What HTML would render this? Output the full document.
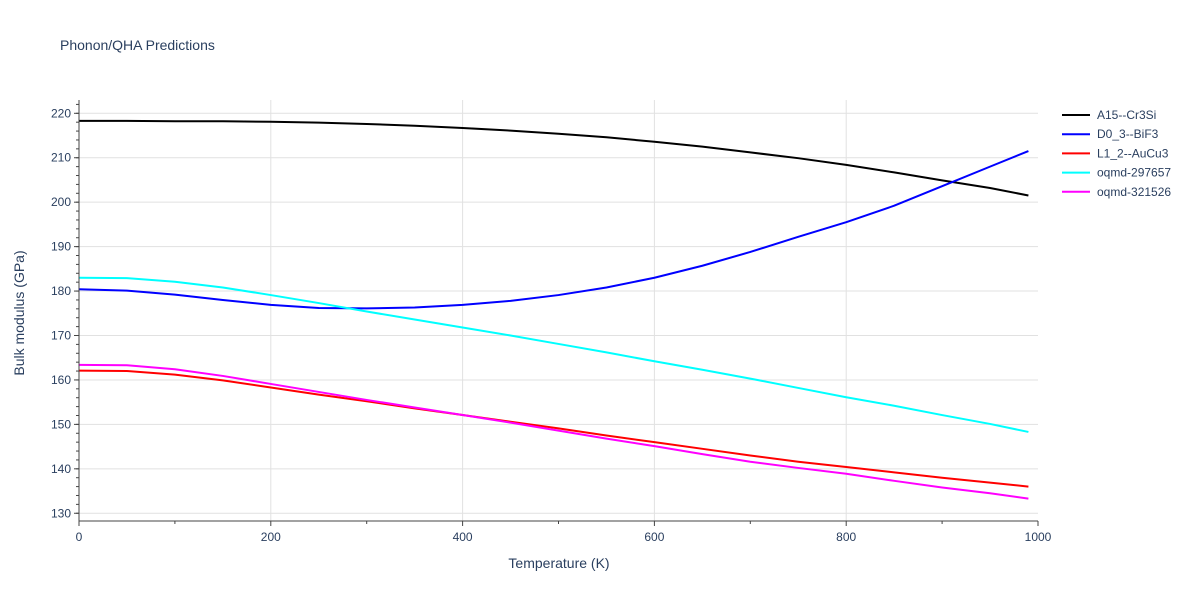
<!DOCTYPE html>
<html><head><meta charset="utf-8"><style>
body{margin:0;background:#fff;font-family:"Liberation Sans",sans-serif}
svg text{font-family:"Liberation Sans",sans-serif;fill:#2a3f5f}
</style></head><body>
<svg id="c" width="1200" height="600">
<text x="60" y="50" font-size="14">Phonon/QHA Predictions</text>
<g id="grid"></g><g id="series"></g><g id="axes"></g><g id="legend"></g>
<text x="559" y="568" font-size="14" text-anchor="middle">Temperature (K)</text>
<text transform="translate(24,313) rotate(-90)" font-size="14" text-anchor="middle">Bulk modulus (GPa)</text>
</svg>
<script>
const temps=[0,50,100,150,200,250,300,350,400,450,500,550,600,650,700,750,800,850,900,950,990];
const a15=[218.3,218.3,218.2,218.2,218.1,217.9,217.6,217.2,216.7,216.1,215.4,214.6,213.6,212.5,211.2,209.9,208.4,206.7,204.9,203.2,201.5];
const d03=[180.4,180.1,179.2,178.0,176.9,176.2,176.1,176.3,176.9,177.8,179.1,180.8,183.0,185.7,188.8,192.2,195.5,199.2,203.6,208.0,211.5];
const l12=[162.1,162.0,161.2,159.9,158.3,156.7,155.2,153.6,152.1,150.6,149.1,147.5,146.0,144.5,143.0,141.6,140.4,139.2,138.0,136.9,136.0];
const o297=[183.0,182.9,182.1,180.8,179.1,177.3,175.4,173.6,171.8,170.0,168.1,166.2,164.2,162.3,160.3,158.2,156.1,154.2,152.1,150.1,148.3];
const o321=[163.4,163.3,162.4,160.9,159.1,157.3,155.5,153.8,152.1,150.4,148.6,146.8,145.1,143.3,141.6,140.2,138.9,137.3,135.8,134.5,133.3];
const seriesNames=["A15--Cr3Si","D0_3--BiF3","L1_2--AuCu3","oqmd-297657","oqmd-321526"];
const seriesColors=["#000000","#0000ff","#ff0000","#00ffff","#ff00ff"];
const seriesData=[a15,d03,l12,o297,o321];
const xTicks=[0,200,400,600,800,1000];
const yTicks=[130,140,150,160,170,180,190,200,210,220];
const NS="http://www.w3.org/2000/svg";
const X0=79,X1=1038,Y0=100,Y1=521;
const xs=v=>X0+(v/1000)*(X1-X0);
const ys=v=>113.3+(220-v)*4.444;
function mk(t,a,p){const e=document.createElementNS(NS,t);for(const k in a)e.setAttribute(k,a[k]);p.appendChild(e);return e;}
const g=document.getElementById('grid'),ax=document.getElementById('axes'),s=document.getElementById('series'),lg=document.getElementById('legend');
yTicks.forEach(v=>{const y=ys(v);
 const l=mk('line',{x1:X0,x2:X1,y1:y,y2:y,stroke:'#e1e1e1','stroke-width':1},g);
 
 const t=mk('text',{x:X0-8,y:y+4,'font-size':12,'text-anchor':'end'},ax);t.textContent=v;
 
 mk('line',{x1:X0-5,x2:X0,y1:y,y2:y,stroke:'#444'},ax);});
for(let v=128;v<=222;v+=2){const y=ys(v);if(y<=Y1&&y>=Y0)mk('line',{x1:X0-3,x2:X0,y1:y,y2:y,stroke:'#444'},ax);}
xTicks.forEach(v=>{const x=xs(v);
 if(v>0&&v<1000){const l=mk('line',{x1:x,x2:x,y1:Y0,y2:Y1,stroke:'#e1e1e1'},g);
 }
 const t=mk('text',{x:x,y:Y1+20,'font-size':12,'text-anchor':'middle'},ax);t.textContent=v;
 
 mk('line',{x1:x,x2:x,y1:Y1,y2:Y1+5,stroke:'#444'},ax);});
for(let v=100;v<1000;v+=200){const x=xs(v);mk('line',{x1:x,x2:x,y1:Y1,y2:Y1+3,stroke:'#444'},ax);}
const ya=mk('line',{x1:X0,x2:X0,y1:Y0,y2:Y1,stroke:'#444'},ax);

const xa=mk('line',{x1:X0,x2:X1,y1:Y1,y2:Y1,stroke:'#444'},ax);

seriesData.forEach((d,i)=>{
 const p=mk('polyline',{points:d.map((v,j)=>xs(temps[j])+','+ys(v)).join(' '),fill:'none',stroke:seriesColors[i],'stroke-width':2,'stroke-linejoin':'round'},s);
 
 const y=115+i*19.2;
 const e=mk('g',{},lg);
 
 mk('line',{x1:1062,x2:1090,y1:y,y2:y,stroke:seriesColors[i],'stroke-width':2},e);
 const t=mk('text',{x:1097,y:y+4,'font-size':12},e);t.textContent=seriesNames[i];});
</script>
</body></html>
